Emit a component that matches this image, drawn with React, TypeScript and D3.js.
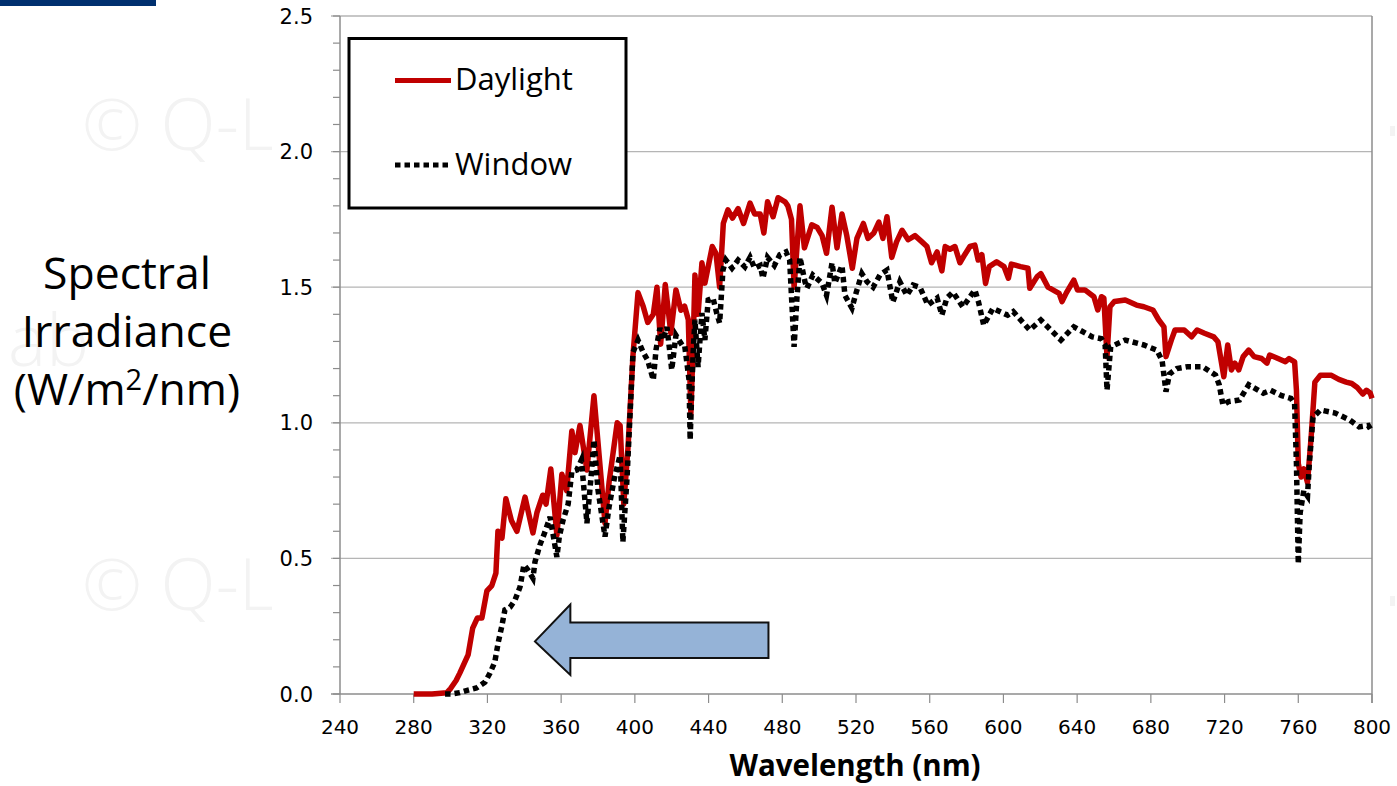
import React from "react";
import * as d3 from "d3";

// ---- Data ----
const daylightNm = [280,290,298,300,303,305,309.5,312,314.5,317,319.7,322.4,324.6,325.7,327.9,330,333,336,340.4,344.7,346.9,350,351.8,354.4,357.7,360.4,363,365.8,367.5,370.2,374,377.8,383.8,386,390.4,392,394,396.3,399,401.7,404.5,407,410,412,414,416.5,418.7,419.5,422.3,425,427,429,430.4,431.6,432.6,434.3,436.4,438,442,444,446,448,450.5,453,456,459,462.5,465,468,470,472,475,477.7,481.5,483,485,486.4,488,489.6,492,496,499,501.6,504,507,509.7,512.4,515,518,520.5,524,526.5,529.7,532.4,534.6,536.8,539.4,542,545,548.3,552,555.8,558.5,561,564,566.6,568.4,571,573.7,576.4,579,581.8,584.5,586.3,588.3,590.3,592.3,596.3,600.3,602.7,604.3,609.3,613.3,614.3,618.3,620.3,624.2,630.2,631.8,634.2,638.2,640.2,644.2,649.1,651.2,653.2,654.5,656.2,657.8,660.2,666.1,672.2,676.2,681.1,684.2,687.1,688.2,691.1,693.1,698.1,702.1,705.1,709.1,714.1,716.4,719.6,721.7,723.7,725.6,727.7,730.1,733.1,736,740.1,743,744.5,749,753,755,758,759,760,761.5,763,765,767,769,772,778,782,786,789,792,795,797,799,800];
const daylightVal = [0,0,0.005,0.02,0.05,0.077,0.144,0.243,0.28,0.28,0.38,0.40,0.446,0.60,0.575,0.72,0.64,0.60,0.726,0.594,0.67,0.733,0.70,0.83,0.585,0.81,0.75,0.97,0.89,0.99,0.826,1.10,0.63,0.78,1.0,0.99,0.70,0.91,1.25,1.48,1.43,1.37,1.40,1.50,1.29,1.51,1.38,1.33,1.49,1.415,1.43,1.38,1.035,1.28,1.545,1.40,1.59,1.515,1.65,1.625,1.50,1.735,1.785,1.755,1.79,1.735,1.81,1.77,1.77,1.70,1.815,1.76,1.83,1.815,1.80,1.75,1.50,1.65,1.80,1.645,1.73,1.72,1.69,1.625,1.795,1.645,1.77,1.69,1.57,1.68,1.735,1.68,1.70,1.74,1.68,1.76,1.61,1.667,1.71,1.675,1.69,1.667,1.65,1.59,1.63,1.56,1.65,1.64,1.65,1.59,1.62,1.65,1.655,1.60,1.62,1.514,1.576,1.594,1.576,1.533,1.585,1.576,1.57,1.496,1.539,1.55,1.50,1.477,1.447,1.48,1.526,1.49,1.49,1.465,1.416,1.465,1.46,1.244,1.428,1.447,1.453,1.434,1.428,1.416,1.38,1.354,1.244,1.305,1.342,1.342,1.317,1.342,1.33,1.317,1.299,1.17,1.287,1.195,1.22,1.195,1.244,1.268,1.244,1.237,1.22,1.25,1.237,1.225,1.237,1.225,1.12,0.85,0.80,0.83,0.78,0.95,1.15,1.175,1.175,1.16,1.15,1.145,1.13,1.106,1.12,1.11,1.09];

const windowNm = [297,300,305,310,314,318.7,321.4,324,325.8,327.7,329.5,332.3,335,337.7,339.8,342,344.7,345.8,348.5,351.2,354,357.7,359,361,363.8,365.8,368.5,371,374,376.7,377.8,380,383.8,386,389,392,393.5,395.7,399,401.7,404.5,407,410,411.5,413.6,415.3,417.4,419,420,422.3,425.6,427,429.4,430,431.6,432.6,434.3,436.4,438,439.8,442.4,444.4,446,447.8,449.4,452.7,456,459.7,462.5,465,468,469.5,472,475.7,478.7,482,484,485,486.4,488,489.6,492.3,493.4,496.6,501.5,504,507,508.5,512.4,514,517.8,520,523.2,526,529.3,533,536.8,540,543.8,547.6,551,554.7,559,564,566.6,569.3,572.6,578,584.5,586.5,589.3,594.3,602.3,605.3,614.3,620.3,631.2,638.2,648.2,653.2,655.2,656.2,658.2,666.1,676.2,683.2,686.1,688.2,690.1,694.1,700.1,708.1,715.1,717.1,719.1,722.1,728.1,733.1,741,745,751,756,758,759,760,761,763,765,766,768,772,780,788,793,798,800];
const windowVal = [0,0,0.005,0.015,0.022,0.044,0.077,0.118,0.188,0.247,0.31,0.32,0.347,0.395,0.476,0.457,0.427,0.487,0.55,0.597,0.653,0.505,0.58,0.64,0.70,0.82,0.826,0.863,0.63,0.837,0.937,0.752,0.58,0.69,0.80,0.88,0.56,0.79,1.26,1.305,1.26,1.23,1.158,1.27,1.35,1.305,1.353,1.26,1.195,1.323,1.287,1.287,1.158,0.937,1.257,1.38,1.206,1.405,1.305,1.453,1.46,1.405,1.368,1.563,1.60,1.57,1.60,1.575,1.61,1.57,1.58,1.533,1.61,1.58,1.62,1.63,1.60,1.465,1.28,1.465,1.61,1.52,1.497,1.545,1.515,1.47,1.59,1.515,1.58,1.47,1.423,1.478,1.55,1.52,1.50,1.545,1.563,1.445,1.52,1.47,1.508,1.50,1.434,1.46,1.397,1.46,1.482,1.427,1.49,1.445,1.36,1.422,1.397,1.41,1.342,1.379,1.305,1.354,1.317,1.31,1.287,1.12,1.28,1.305,1.287,1.268,1.23,1.115,1.18,1.20,1.207,1.207,1.176,1.14,1.066,1.078,1.084,1.14,1.109,1.12,1.10,1.09,1.07,0.85,0.48,0.667,0.75,0.73,0.85,1.02,1.047,1.036,1.01,0.985,0.99,0.967];

const xTicks = [240,280,320,360,400,440,480,520,560,600,640,680,720,760,800];
const yTicks = [0,0.5,1.0,1.5,2.0,2.5];
const yMinorTicks = d3.range(0, 2.501, 0.1);
const seriesNames = ["Daylight", "Window"];
const xTitle = "Wavelength (nm)";
// arrow annotation in data units: tip, head back, body end (nm) and heights
const arrowNm = [345.8, 365, 472.5];
const arrowVal = [0.33, 0.264, 0.194, 0.133, 0.07];

const W = 1397, H = 786;
const RED = "#c00000";

export default function App() {
  const x = d3.scaleLinear().domain([240, 800]).range([340, 1372]);
  const y = d3.scaleLinear().domain([0, 2.5]).range([694, 16]);
  const line = d3.line<[number, number]>().x(d => x(d[0])).y(d => y(d[1]));
  const dayPts = daylightNm.map((n, i) => [n, daylightVal[i]] as [number, number]);
  const winPts = windowNm.map((n, i) => [n, windowVal[i]] as [number, number]);

  const arrowPts: [number, number][] = [
    [arrowNm[0], arrowVal[2]],
    [arrowNm[1], arrowVal[0]],
    [arrowNm[1], arrowVal[1]],
    [arrowNm[2], arrowVal[1]],
    [arrowNm[2], arrowVal[3]],
    [arrowNm[1], arrowVal[3]],
    [arrowNm[1], arrowVal[4]],
  ];
  const arrowPath = "M" + arrowPts.map(p => `${x(p[0])},${y(p[1])}`).join("L") + "Z";

  const wmStyle = { fontFamily: "'Open Sans', sans-serif", fontWeight: 300, fontSize: 72, fill: "#f3f3f3" } as const;

  return (
    <svg width={W} height={H} style={{ position: "absolute", left: 0, top: 0, background: "#fff" }}>
      {/* watermark fragments visible outside the chart area */}
      <g>
        <text x={82} y={150} style={wmStyle}>© Q-L</text>
        <text x={8} y={366} style={wmStyle}>ab</text>
        <text x={82} y={610} style={wmStyle}>© Q-L</text>
        <rect x={1390} y={126} width={5} height={10} fill="#f3f3f3" />
        <rect x={1390} y={596} width={5} height={10} fill="#f3f3f3" />
      </g>
      {/* chart area background */}
      <rect x={272} y={0} width={1116} height={H} fill="#fff" />
      {/* top bar */}
      <rect x={0} y={0} width={156} height={6} fill="#00306f" />

      {/* gridlines */}
      {yTicks.map(t => (
        <line key={"g" + t} x1={331} x2={x(800)} y1={y(t)} y2={y(t)} stroke={t === 0 ? "#8c8c8c" : "#b5b5b5"} strokeWidth={1.3} />
      ))}
      {/* minor ticks */}
      {yMinorTicks.map(t => (
        <line key={"m" + t.toFixed(1)} x1={333} x2={340} y1={y(t)} y2={y(t)} stroke="#8c8c8c" strokeWidth={1.2} />
      ))}
      {/* y axis */}
      <line x1={340} x2={340} y1={y(2.5)} y2={y(0)} stroke="#8c8c8c" strokeWidth={1.5} />
      {/* right border */}
      <line x1={x(800)} x2={x(800)} y1={y(2.5)} y2={y(0) + 9} stroke="#8c8c8c" strokeWidth={1.5} />
      {/* x ticks */}
      {xTicks.map(t => (
        <line key={"xt" + t} x1={x(t)} x2={x(t)} y1={y(0)} y2={y(0) + 9} stroke="#8c8c8c" strokeWidth={1.2} />
      ))}
      {/* y tick labels */}
      {yTicks.map(t => (
        <text key={"yl" + t} x={313} y={y(t)} dy="0.36em" textAnchor="end"
          style={{ fontFamily: "'DejaVu Sans', sans-serif", fontSize: 21, fill: "#000" }}>{t.toFixed(1)}</text>
      ))}
      {/* x tick labels */}
      {xTicks.map(t => (
        <text key={"xl" + t} x={x(t)} y={734} textAnchor="middle"
          style={{ fontFamily: "'DejaVu Sans', sans-serif", fontSize: 20, fill: "#000" }}>{t}</text>
      ))}
      {/* x title */}
      <text x={855} y={776} textAnchor="middle"
        style={{ fontFamily: "'Open Sans', sans-serif", fontWeight: 700, fontSize: 29.5, fill: "#000" }}>{xTitle}</text>

      {/* y title */}
      <g style={{ fontFamily: "'Open Sans', sans-serif", fontSize: 44.5, fill: "#000" }} textAnchor="middle">
        <text x={127} y={289}>Spectral</text>
        <text x={127} y={347}>Irradiance</text>
        <text x={127} y={405}>(W/m<tspan dy={-15} fontSize={29}>2</tspan><tspan dy={15}>/nm)</tspan></text>
      </g>

      {/* series */}
      <path d={line(dayPts) || ""} fill="none" stroke={RED} strokeWidth={5.5} strokeLinejoin="round" />
      <path d={line(winPts) || ""} fill="none" stroke="#000" strokeWidth={5.5} strokeDasharray="5.5 4" />

      {/* arrow */}
      <path d={arrowPath} fill="#95b3d7" stroke="#111" strokeWidth={2} strokeLinejoin="miter" />

      {/* legend */}
      <rect x={349} y={38.5} width={277} height={169.5} fill="#fff" stroke="#000" strokeWidth={3} />
      <line x1={395} x2={451} y1={80.5} y2={80.5} stroke={RED} strokeWidth={5} />
      <text x={455} y={90} style={{ fontFamily: "'Open Sans', sans-serif", fontSize: 31, fill: "#000" }}>{seriesNames[0]}</text>
      <line x1={395} x2={451} y1={165} y2={165} stroke="#000" strokeWidth={5} strokeDasharray="5.5 4" />
      <text x={455} y={175} style={{ fontFamily: "'Open Sans', sans-serif", fontSize: 31, fill: "#000" }}>{seriesNames[1]}</text>
    </svg>
  );
}
